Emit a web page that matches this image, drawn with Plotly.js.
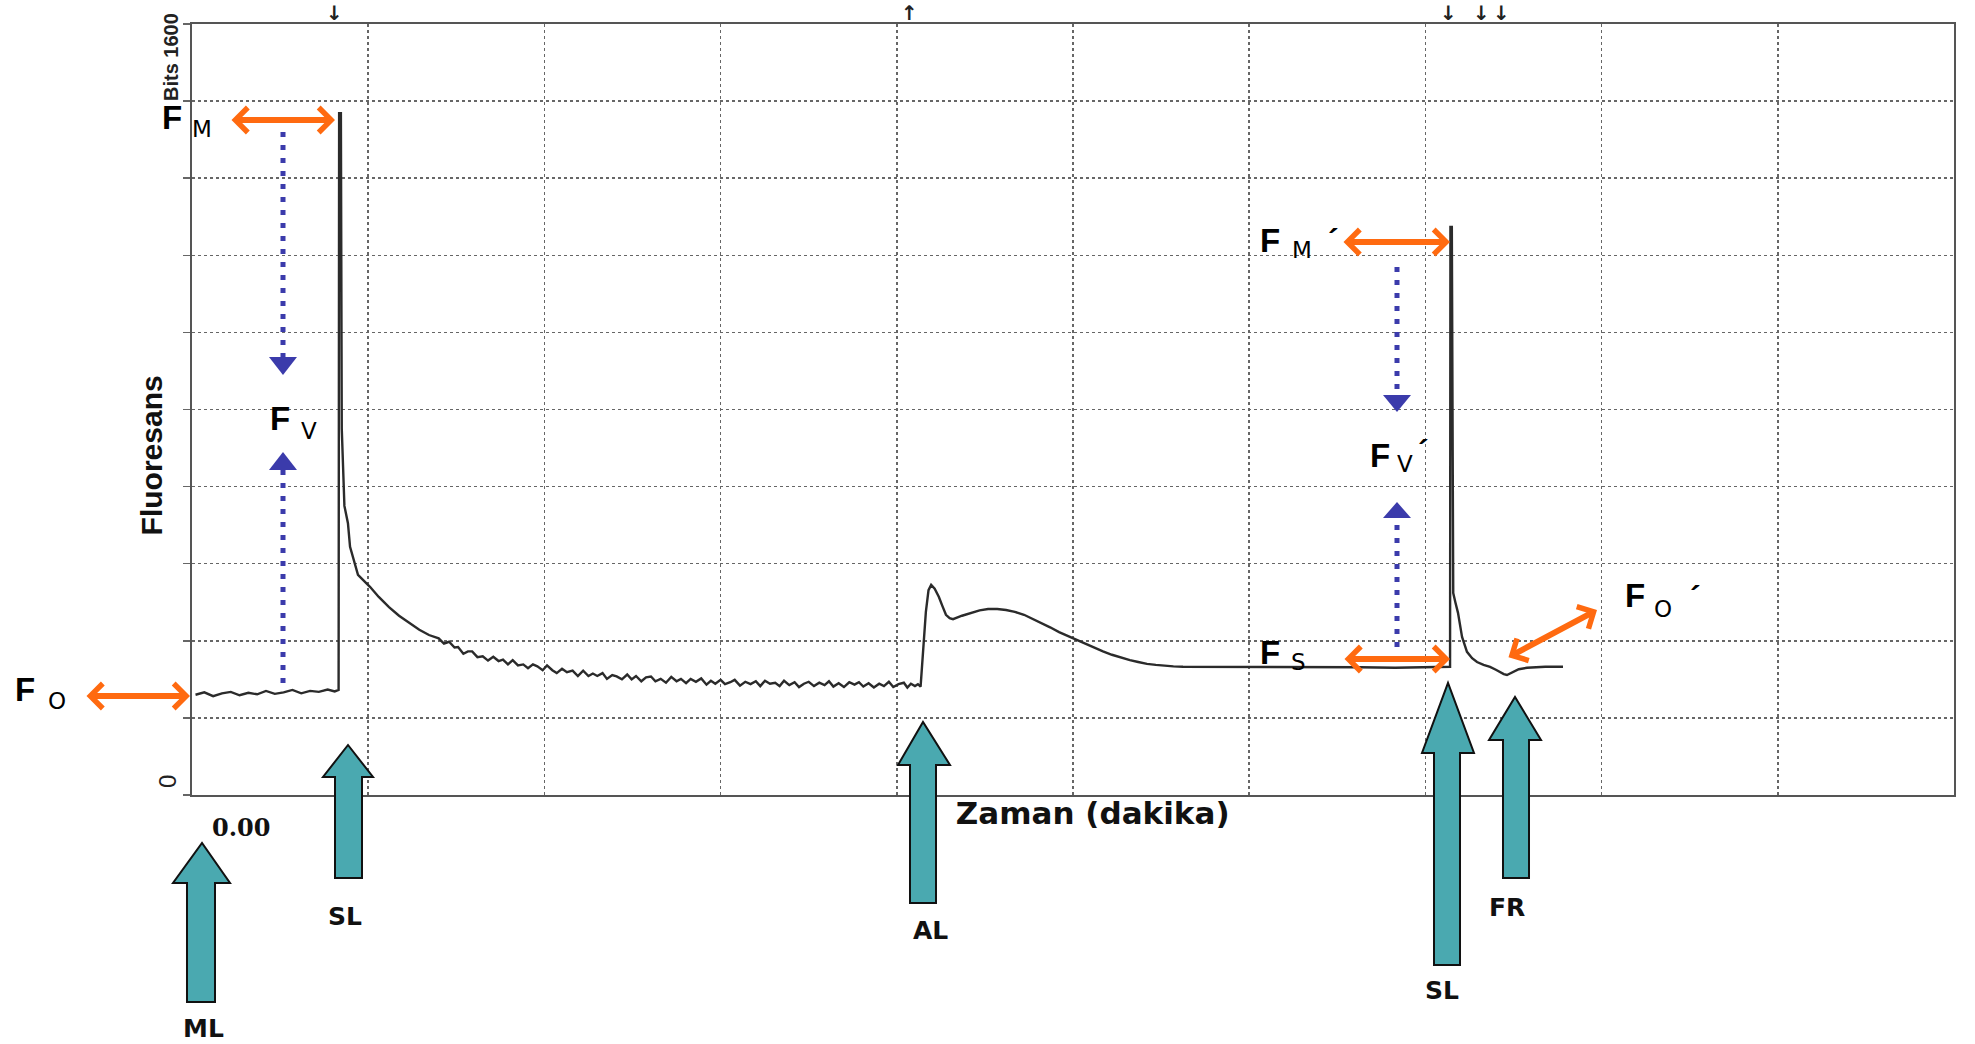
<!DOCTYPE html>
<html>
<head>
<meta charset="utf-8">
<script src="https://cdn.plot.ly/plotly-3.0.1.min.js"></script>
<style>html,body{margin:0;padding:0;background:#fff;}#chart{width:1975px;height:1044px;}</style>
</head>
<body>
<div id="chart"></div>
<script>
// ---------- DATA (time in minutes, fluorescence in bits) ----------
const foX = [0.02,0.07,0.12,0.17,0.22,0.27,0.32,0.37,0.42,0.47,0.52,0.57,0.62,0.67,0.72,0.77,0.81,0.832];
const foY = [208,213,205,211,214,207,212,209,216,210,213,218,211,216,214,219,215,218];

const decayX = [
 0.835,0.845,0.850,0.865,0.885,0.897,0.942,1.010,1.060,1.118,
 1.175,1.232,1.290,1.345,1.400,1.430,1.459,1.490,1.510,1.540,
 1.566,1.590,1.620,1.650,1.680,1.710,1.740,1.765,1.793,1.820,
 1.850,1.880,1.907,1.935,1.960,1.990,2.015,2.045,2.070,2.100,
 2.128,2.160,2.190,2.220,2.250,2.275,2.300,2.330,2.355,2.385,
 2.410,2.440,2.470,2.495,2.520,2.550,2.577,2.605,2.630,2.660,
 2.690,2.720,2.750,2.775,2.804,2.830,2.860,2.890,2.920,2.945,
 2.970,3.000,3.025,3.055,3.080,3.110,3.140,3.170,3.200,3.225,
 3.252,3.280,3.310,3.335,3.360,3.390,3.420,3.445,3.473,3.500,
 3.530,3.560,3.590,3.615,3.640,3.670,3.700,3.730,3.760,3.785,
 3.810,3.840,3.870,3.900,3.927,3.955,3.980,4.010,4.040,4.060,
 4.080,4.103,4.120,4.135];
const decayY = [
 1415,1415,760,600,564,515,457,432,411,390,
 372,357,343,332,325,314,318,306,307,293,
 298,298,286,288,279,287,278,281,271,280,
 269,271,263,271,267,259,269,259,253,262,
 255,258,247,258,247,252,247,253,241,249,
 246,240,250,240,247,236,244,246,236,241,
 233,245,236,241,232,241,235,242,229,237,
 231,239,230,234,239,227,235,230,236,226,
 237,231,233,226,237,228,234,224,231,235,
 226,233,228,236,225,232,224,234,229,234,
 225,232,223,231,226,235,224,230,233,223,
 231,226,230,225];

const alX = [
 4.150,4.165,4.180,4.195,4.215,4.239,4.259,4.279,4.300,4.319,
 4.370,4.421,4.470,4.518,4.570,4.620,4.670,4.722,4.770,4.818,
 4.870,4.921,4.970,5.023,5.070,5.119,5.170,5.221,5.270,5.323,
 5.370,5.420,5.470,5.522,5.570,5.624,5.720,5.823,5.920,6.022,
 6.220,6.424,6.630,6.828,6.960,7.088,7.130,7.140];
const alY = [
 300,380,425,436,428,411,392,374,367,365,
 372,378,383,386,386,384,380,374,366,357,
 348,338,330,322,313,305,298,291,285,280,
 276,272,270,268,267,266,266,266,265,266,
 265,266,265,264,265,266,266,266];

const sl2X = [
 7.142,7.150,7.155,7.158,7.170,7.185,7.208,7.236,7.265,7.293,
 7.330,7.367,7.400,7.423,7.445,7.463,7.480,7.497,7.530,7.577,
 7.680,7.781];
const sl2Y = [
 1179,1179,700,419,400,378,328,297,284,276,
 270,266,260,255,251,249,252,255,261,264,
 266,266];

const xTickVals = [0,1,2,3,4,5,6,7,8,9,10];
const yTickVals = [0,160,320,480,640,800,960,1120,1280,1440,1600];
const xTickText = ['0.00'];
const yTickText = ['0'];
const yTopLabel = 'Bits 1600';
const eventLabels = ['ML','SL','AL','SL','FR'];
const topMarks = ['↓','↑','↓','↓','↓'];
const paramSubs = ['M','V','O','M','V','S','O'];

// ---------- LAYOUT HELPERS (pixel -> paper) ----------
const L = 192, R = 1954, T = 24, B = 795;
const px = x => (x - L) / (R - L);
const py = y => (B - y) / (B - T);
const P = (x, y) => px(x).toFixed(5) + ',' + py(y).toFixed(5);

const ORANGE = '#ff6a10', BLUE = '#3b3bab', TEAL = '#4aa9b0';
const SANS = 'Liberation Sans, Arial, sans-serif';
const NARROW = 'Liberation Sans Narrow, Arial Narrow, Liberation Sans, sans-serif';
const HEAVY = 'DejaVu Sans, Verdana, sans-serif';
const NB = n => '&nbsp;'.repeat(n);

function dbl(tipX, tipY, tailX, tailY) {
  return {xref:'paper', yref:'paper', x:px(tipX), y:py(tipY), ax:tailX-tipX, ay:tailY-tipY,
    axref:'pixel', ayref:'pixel', text:'', showarrow:true, arrowside:'end+start',
    arrowhead:4, startarrowhead:4, arrowsize:0.8, startarrowsize:0.8, arrowwidth:6,
    arrowcolor:ORANGE, standoff:0, startstandoff:0};
}
function block(tipX, tipY, baseY, hx1, hx2, sx1, sx2, bottom) {
  return {type:'path', xref:'paper', yref:'paper', layer:'above',
    path:'M'+P(sx1,bottom)+'L'+P(sx1,baseY)+'L'+P(hx1,baseY)+'L'+P(tipX,tipY)+'L'+P(hx2,baseY)+'L'+P(sx2,baseY)+'L'+P(sx2,bottom)+'Z',
    fillcolor:TEAL, line:{color:'#111', width:2}};
}
function dotLine(x, y1, y2) {
  return {type:'line', xref:'paper', yref:'paper', layer:'above', x0:px(x), x1:px(x), y0:py(y1), y1:py(y2),
    line:{color:BLUE, width:5, dash:'5px,8px'}};
}
function tri(x, tipY, baseY, hw) {
  return {type:'path', xref:'paper', yref:'paper', layer:'above',
    path:'M'+P(x-hw,baseY)+'L'+P(x+hw,baseY)+'L'+P(x,tipY)+'Z', fillcolor:BLUE, line:{width:0}};
}
function lt(x, y, t, font) {
  return {xref:'paper', yref:'paper', x:px(x), y:py(y), xanchor:'left', yanchor:'middle', showarrow:false, text:t, font:font};
}
function txt(x, y, t, font, angle) {
  const a = {xref:'paper', yref:'paper', x:px(x), y:py(y), xanchor:'center', yanchor:'middle',
    showarrow:false, text:t, font:font};
  if (angle !== undefined) a.textangle = angle;
  return a;
}
const fFont = {family:SANS, size:33, color:'#000'};
const sFont = {family:HEAVY, size:23, color:'#000'};
const pFont = {family:SANS, size:32, color:'#000'};
// F label: F letter, subscript letter, optional prime
function flab(fx, fy, sx, sy, sub, prime) {
  const out = [lt(fx, fy, '<b>F</b>', fFont), lt(sx, sy, sub, sFont)];
  if (prime) out.push(lt(prime[0], prime[1], '<b>´</b>', pFont));
  return out;
}

const trace = {
  x: foX.concat(decayX, alX, sl2X),
  y: foY.concat(decayY, alY, sl2Y),
  type:'scatter', mode:'lines', line:{color:'#2b2b2b', width:2.4}, hoverinfo:'skip', showlegend:false
};

const evFont = {family:HEAVY, size:25, color:'#111'};
const markFont = {family:'DejaVu Sans, sans-serif', size:20, color:'#222'};

const annotations = [
  // orange double arrows
  dbl(335,120,230,120), dbl(190,696,85,696), dbl(1450,242,1342,242), dbl(1450,659,1343,659), dbl(1597,610,1507,658),
  // F labels
  ...flab(160,117,190,129,paramSubs[0]),
  ...flab(268,419,299,431,paramSubs[1]),
  ...flab(13,689,46,701,paramSubs[2]),
  ...flab(1258,240,1290,250,paramSubs[3],[1326,240]),
  ...flab(1368,455,1395,464,paramSubs[4],[1416,451]),
  ...flab(1258,652,1289,662,paramSubs[5]),
  ...flab(1623,595,1652,609,paramSubs[6],[1688,597]),
  // event labels
  txt(203,1028,'<b>'+eventLabels[0]+'</b>',evFont), txt(345,917,'<b>'+eventLabels[1]+'</b>',evFont),
  txt(930,930,'<b>'+eventLabels[2]+'</b>',evFont), txt(1442,990,'<b>'+eventLabels[3]+'</b>',evFont),
  txt(1507,907,'<b>'+eventLabels[4]+'</b>',evFont),
  // top event marks
  txt(334,13,'<b>'+topMarks[0]+'</b>',markFont), txt(909,13,'<b>'+topMarks[1]+'</b>',markFont),
  txt(1448,13,'<b>'+topMarks[2]+'</b>',markFont), txt(1481,13,'<b>'+topMarks[3]+'</b>',markFont),
  txt(1501,13,'<b>'+topMarks[4]+'</b>',markFont),
  // axis end labels
  txt(171,57,'<b>'+yTopLabel+'</b>',{family:NARROW,size:20,color:'#222'},-90),
  txt(167,782,yTickText[0],{family:NARROW,size:24,color:'#222'},-90),
  txt(241,827,'<b>'+xTickText[0]+'</b>',{family:'DejaVu Serif, Liberation Serif, serif',size:24,color:'#111'})
];

const shapes = [
  // teal block arrows: ML, SL, AL, SL, FR
  block(202,843,883,173,230,187,215,1002),
  block(348,745,777,323,373,335,362,878),
  block(923,722,765,898,950,910,936,903),
  block(1448,683,753,1422,1474,1434,1460,965),
  block(1515,697,740,1489,1541,1503,1529,878),
  // blue dotted arrows
  dotLine(283,132,357), tri(283,375,357,14),
  dotLine(283,683,470), tri(283,452,470,14),
  dotLine(1397,267,395), tri(1397,412,395,14),
  dotLine(1397,647,518), tri(1397,502,518,14)
];

const axisCommon = {showline:true, mirror:true, linecolor:'#555', linewidth:2, zeroline:false,
  showgrid:true, gridcolor:'#666', gridwidth:1.5, griddash:'dot', showticklabels:false, fixedrange:true};

const layout = {
  width:1975, height:1044,
  margin:{l:L, r:1975-R, t:T, b:1044-B, autoexpand:false},
  paper_bgcolor:'#fff', plot_bgcolor:'#fff',
  font:{family:SANS, color:'#111'},
  xaxis: Object.assign({}, axisCommon, {range:[0,10], tickmode:'array', tickvals:xTickVals, ticks:'',
    title:{text:NB(4)+'<b>Zaman (dakika)</b>', font:{family:HEAVY, size:31, color:'#111'}, standoff:6}}),
  yaxis: Object.assign({}, axisCommon, {range:[0,1600], tickmode:'array', tickvals:yTickVals, ticks:'outside',
    ticklen:7, tickcolor:'#666', tickwidth:1.5,
    title:{text:'<b>Fluoresans</b>'+NB(11), font:{family:NARROW, size:30, color:'#111'}, standoff:12}}),
  annotations: annotations,
  shapes: shapes,
  showlegend:false
};

Plotly.newPlot('chart', [trace], layout, {displayModeBar:false, staticPlot:true});
</script>
</body>
</html>
